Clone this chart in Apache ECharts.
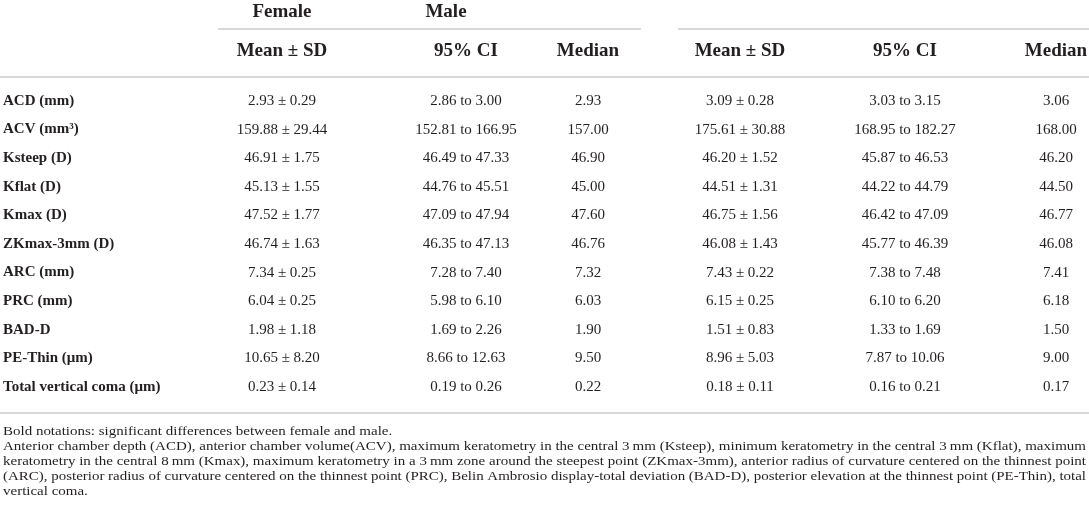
<!DOCTYPE html>
<html>
<head>
<meta charset="utf-8">
<script src="https://cdn.jsdelivr.net/npm/echarts@6/dist/echarts.min.js"></script>
<style>
html, body { margin: 0; padding: 0; background: #fff; }
#chart { width: 1089px; height: 518px; }
</style>
</head>
<body>
<div id="chart"></div>
<script>
// table data
var rowLabels = ['ACD (mm)', 'ACV (mm³)', 'Ksteep (D)', 'Kflat (D)', 'Kmax (D)', 'ZKmax-3mm (D)',
    'ARC (mm)', 'PRC (mm)', 'BAD-D', 'PE-Thin (μm)', 'Total vertical coma (μm)'];

var femaleMean = [2.93, 159.88, 46.91, 45.13, 47.52, 46.74, 7.34, 6.04, 1.98, 10.65, 0.23];
var femaleSD = [0.29, 29.44, 1.75, 1.55, 1.77, 1.63, 0.25, 0.25, 1.18, 8.20, 0.14];
var femaleCILow = [2.86, 152.81, 46.49, 44.76, 47.09, 46.35, 7.28, 5.98, 1.69, 8.66, 0.19];
var femaleCIHigh = [3.00, 166.95, 47.33, 45.51, 47.94, 47.13, 7.40, 6.10, 2.26, 12.63, 0.26];
var femaleMedian = [2.93, 157.00, 46.90, 45.00, 47.60, 46.76, 7.32, 6.03, 1.90, 9.50, 0.22];

var maleMean = [3.09, 175.61, 46.20, 44.51, 46.75, 46.08, 7.43, 6.15, 1.51, 8.96, 0.18];
var maleSD = [0.28, 30.88, 1.52, 1.31, 1.56, 1.43, 0.22, 0.25, 0.83, 5.03, 0.11];
var maleCILow = [3.03, 168.95, 45.87, 44.22, 46.42, 45.77, 7.38, 6.10, 1.33, 7.87, 0.16];
var maleCIHigh = [3.15, 182.27, 46.53, 44.79, 47.09, 46.39, 7.48, 6.20, 1.69, 10.06, 0.21];
var maleMedian = [3.06, 168.00, 46.20, 44.50, 46.77, 46.08, 7.41, 6.18, 1.50, 9.00, 0.17];

var groupHeads = ['Female', 'Male'];
var columnHeads = ['Mean ± SD', '95% CI', 'Median', 'Mean ± SD', '95% CI', 'Median'];

var notes = [
    'Bold notations: significant differences between female and male.',
    'Anterior chamber depth (ACD), anterior chamber volume(ACV), maximum keratometry in the central 3\u2009mm (Ksteep), minimum keratometry in the central 3\u2009mm (Kflat), maximum',
    'keratometry in the central 8\u2009mm (Kmax), maximum keratometry in a 3\u2009mm zone around the steepest point (ZKmax-3mm), anterior radius of curvature centered on the thinnest point',
    '(ARC), posterior radius of curvature centered on the thinnest point (PRC), Belin Ambrosio display-total deviation (BAD-D), posterior elevation at the thinnest point (PE-Thin), total',
    'vertical coma.'
];
var notesJustified = [false, true, true, true, false];

// layout
var FONT = '"Liberation Serif", "DejaVu Serif", serif';
var INK = '#231f20';
var RULE = '#cccccc';
var W = 1089;
var LABEL_X = 3;
var COL_X = [282, 466, 588, 740, 905, 1056];
var GROUP_X = [282, 446];
var HEAD1_Y = 12, HEAD2_Y = 51;
var HEAD_SIZE = 19;
var NOTE_Y = [431, 446, 461, 476, 491];
var NOTE_SIZE = 13.5;

function f2(v) { return v.toFixed(2); }

function rowCells(i) {
    return [
        f2(femaleMean[i]) + ' ± ' + f2(femaleSD[i]),
        f2(femaleCILow[i]) + ' to ' + f2(femaleCIHigh[i]),
        f2(femaleMedian[i]),
        f2(maleMean[i]) + ' ± ' + f2(maleSD[i]),
        f2(maleCILow[i]) + ' to ' + f2(maleCIHigh[i]),
        f2(maleMedian[i])
    ];
}

function txt(x, y, text, size, weight, align) {
    return {
        type: 'text',
        silent: true,
        style: {
            x: x, y: y, text: text,
            fontFamily: FONT, fontSize: size, fontWeight: weight || 'normal',
            fill: INK, align: align || 'center', verticalAlign: 'middle'
        }
    };
}

function rule(y, x1, x2) {
    return {
        type: 'line', silent: true,
        shape: { x1: x1, y1: y, x2: x2, y2: y },
        style: { stroke: RULE, lineWidth: 1.6 }
    };
}

// the source face is wider than Liberation Serif, so footnote lines are
// stretched horizontally to fill the measure like the justified original
var ctx = document.createElement('canvas').getContext('2d');
function measure(s) {
    ctx.font = NOTE_SIZE + 'px ' + FONT;
    return ctx.measureText(s).width;
}

var noteScale = notes.map(function (line, k) {
    return notesJustified[k] ? (W - 2 * LABEL_X) / measure(line) : null;
});
var justified = noteScale.filter(function (s) { return s; });
var avgScale = justified.reduce(function (a, b) { return a + b; }, 0) / justified.length;

var graphics = [];
groupHeads.forEach(function (h, k) { graphics.push(txt(GROUP_X[k], HEAD1_Y, h, HEAD_SIZE, 'bold')); });
columnHeads.forEach(function (h, c) { graphics.push(txt(COL_X[c], HEAD2_Y, h, HEAD_SIZE, 'bold')); });
graphics.push(rule(29, 218, 641), rule(29, 678, W), rule(77, 0, W), rule(413, 0, W));

notes.forEach(function (line, k) {
    var t = txt(0, 0, line, NOTE_SIZE, 'normal', 'left');
    t.x = LABEL_X;
    t.y = NOTE_Y[k];
    t.scaleX = noteScale[k] || avgScale;
    graphics.push(t);
});

var chart = echarts.init(document.getElementById('chart'));
chart.setOption({
    animation: false,
    backgroundColor: '#fff',
    grid: { left: 0, right: 0, top: 86.7, height: 314.6 },
    xAxis: { type: 'value', min: 0, max: W, show: false },
    yAxis: { type: 'category', data: rowLabels, inverse: true, show: false },
    graphic: graphics,
    series: [{
        type: 'custom',
        clip: false,
        silent: true,
        data: rowLabels.map(function (_, i) { return [0, i]; }),
        encode: { x: 0, y: 1 },
        renderItem: function (params, api) {
            var i = api.value(1);
            var cy = api.coord([0, i])[1];
            var children = [txt(api.coord([LABEL_X, i])[0], cy, rowLabels[i], 15, 'bold', 'left')];
            rowCells(i).forEach(function (t, c) {
                children.push(txt(api.coord([COL_X[c], i])[0], cy, t, 15, 'normal', 'center'));
            });
            return { type: 'group', children: children };
        }
    }]
});
</script>
</body>
</html>
